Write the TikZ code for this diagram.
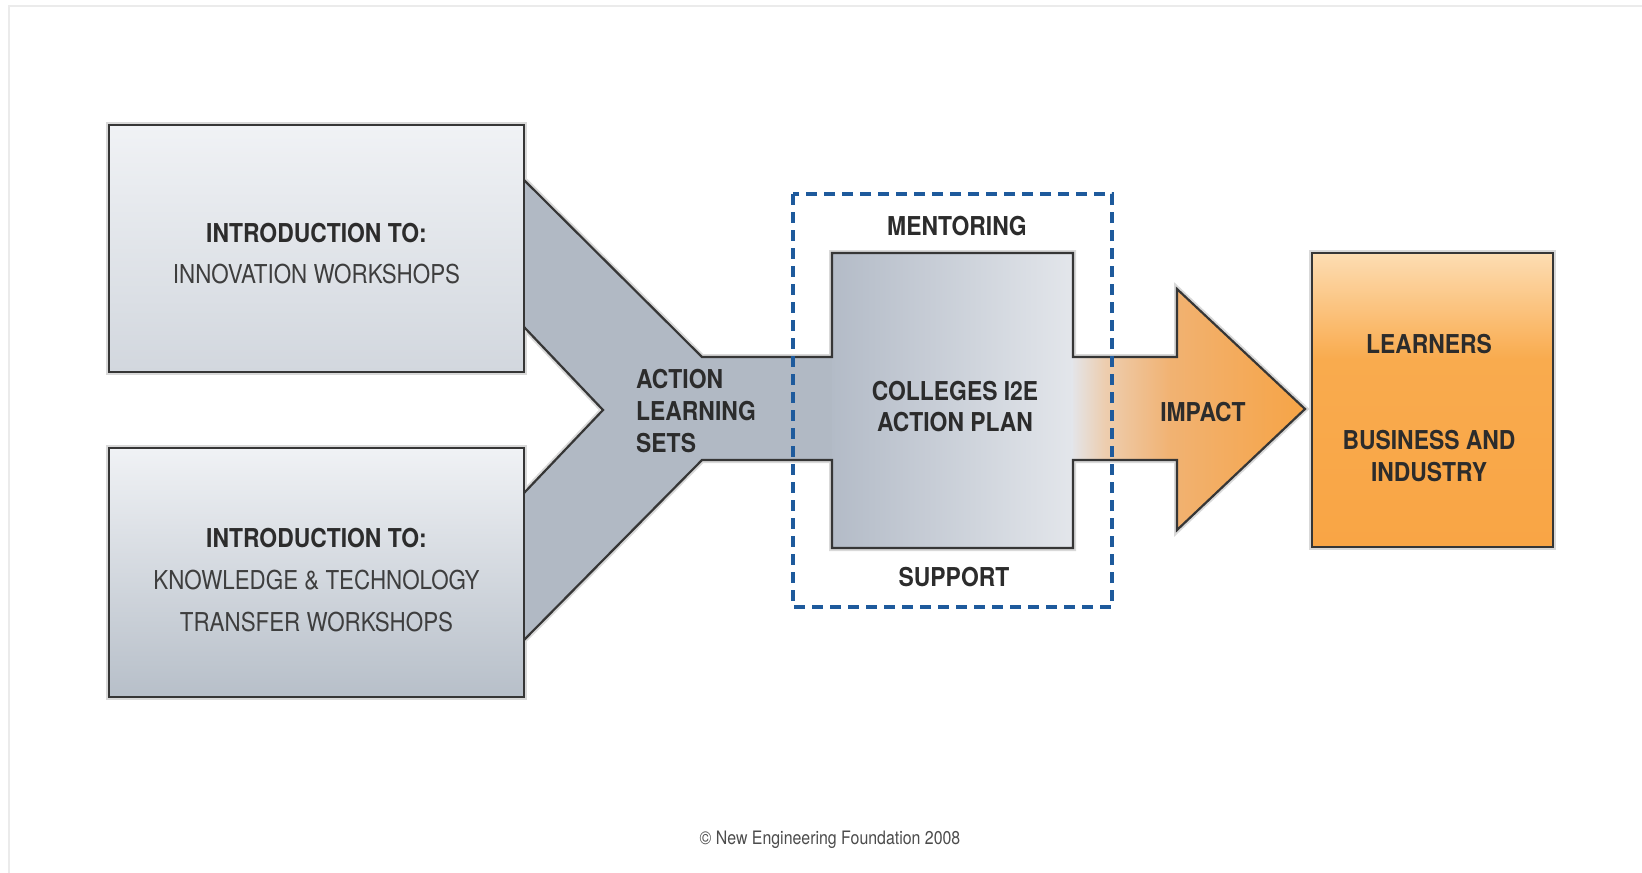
\documentclass[tikz,border=0pt]{standalone}
\usepackage{fontspec}
\newfontfamily\condb{TeX Gyre Heros}[FakeStretch=0.88]
\newfontfamily\condr{TeX Gyre Heros}[FakeStretch=0.86]
\definecolor{outl}{HTML}{363636}
\definecolor{halo}{HTML}{D9D9D9}
\definecolor{funnel}{HTML}{B1B9C4}
\definecolor{txt}{HTML}{2C2C2C}
\definecolor{txtr}{HTML}{3E3E3E}
\definecolor{dashblue}{HTML}{1E5A9C}
\definecolor{boxtop}{HTML}{F0F2F5}
\definecolor{boxbotA}{HTML}{D2D7DE}
\definecolor{boxbotB}{HTML}{B7BFC9}
\definecolor{cenL}{HTML}{B3BBC7}
\definecolor{cenR}{HTML}{E3E6EB}
\definecolor{imp0}{HTML}{E4E4E7}
\definecolor{imp1}{HTML}{EDCDAE}
\definecolor{imp2}{HTML}{F1B272}
\definecolor{imp3}{HTML}{F6A446}
\definecolor{or0}{HTML}{FDDDB3}
\definecolor{or1}{HTML}{F9AB4E}
\definecolor{or2}{HTML}{F9A545}
\pgfdeclarehorizontalshading{impactshade}{100bp}{color(0bp)=(imp0); color(25bp)=(imp0); color(32bp)=(imp1); color(46bp)=(imp2); color(75bp)=(imp3); color(100bp)=(imp3)}
\pgfdeclareverticalshading{orangeshade}{100bp}{color(0bp)=(or2); color(25bp)=(or2); color(57bp)=(or1); color(75bp)=(or0); color(100bp)=(or0)}
\tikzset{
  darkline/.style={draw=outl, line width=2.2pt, line join=miter},
  haloline/.style={draw=halo, line width=6pt, line join=miter},
  boldtxt/.style={inner sep=0pt, anchor=base, text=txt, font=\condb\bfseries\fontsize{26}{31}\selectfont},
  regtxt/.style={inner sep=0pt, anchor=base, text=txtr, font=\condr\fontsize{26}{31}\selectfont},
  dashbox/.style={draw=dashblue, line width=3.2pt, dash pattern=on 11pt off 7pt}
}
\begin{document}
\begin{tikzpicture}[x=1pt,y=-1pt]
\useasboundingbox (0,0) rectangle (1642,873);
\fill[white] (0,0) rectangle (1642,873);
% faint frame
\draw[black!8, line width=2pt] (9,873) -- (9,6) -- (1642,6);

% coordinates
\coordinate (fa) at (524,180);
\coordinate (fb) at (702,357);
\coordinate (fc) at (832,357);
\coordinate (fd) at (832,253);
\coordinate (fe) at (1073,253);
\coordinate (ff) at (1073,357);
\coordinate (fg) at (1177,357);
\coordinate (fh) at (1177,289);
\coordinate (tip) at (1305,409);
\coordinate (fi) at (1177,530);
\coordinate (fj) at (1177,460);
\coordinate (fk) at (1073,460);
\coordinate (fl) at (1073,548);
\coordinate (fm) at (832,548);
\coordinate (fn) at (832,460);
\coordinate (fo) at (702,460);
\coordinate (fp) at (524,640);
\coordinate (ia) at (524,327);
\coordinate (ib) at (603,410);
\coordinate (ic) at (524,493);

% halos
\draw[haloline] (fa) -- (fb) -- (fc) -- (fd) -- (fe) -- (ff) -- (fg) -- (fh) -- (tip) -- (fi) -- (fj) -- (fk) -- (fl) -- (fm) -- (fn) -- (fo) -- (fp);
\draw[haloline] (ia) -- (ib) -- (ic);
\draw[haloline] (109,125) rectangle (524,372);
\draw[haloline] (109,448) rectangle (524,697);
\draw[haloline] (1312,253) rectangle (1553,547);

% fills
\fill[funnel] (fa) -- (fb) -- (fc) -- (fn) -- (fo) -- (fp) -- (ic) -- (ib) -- (ia) -- cycle;
\shade[left color=cenL, right color=cenR] (fd) rectangle (fl);
\shade[shading=impactshade] (ff) -- (fg) -- (fh) -- (tip) -- (fi) -- (fj) -- (fk) -- cycle;
\shade[top color=boxtop, bottom color=boxbotA] (109,125) rectangle (524,372);
\shade[top color=boxtop, bottom color=boxbotB] (109,448) rectangle (524,697);
\shade[shading=orangeshade] (1312,253) rectangle (1553,547);

% outlines
\draw[darkline] (fa) -- (fb) -- (fc) -- (fd) -- (fe) -- (ff) -- (fg) -- (fh) -- (tip) -- (fi) -- (fj) -- (fk) -- (fl) -- (fm) -- (fn) -- (fo) -- (fp);
\draw[darkline] (ia) -- (ib) -- (ic);
\draw[darkline] (109,125) rectangle (524,372);
\draw[darkline] (109,448) rectangle (524,697);
\draw[darkline] (1312,253) rectangle (1553,547);

% dashed frame
\draw[dashbox] (793,194) rectangle (1112,607);

% texts
\node[boldtxt] (i1) at (316.5,242) {INTRODUCTION TO:};
\node[regtxt] (i2) at (316.5,283) {INNOVATION WORKSHOPS};
\node[boldtxt] (k1) at (316.5,547) {INTRODUCTION TO:};
\node[regtxt] (k2) at (316.5,589) {KNOWLEDGE \& TECHNOLOGY};
\node[regtxt] (k3) at (316.5,631) {TRANSFER WORKSHOPS};
\node[boldtxt, anchor=base west] (a1) at (636,388) {ACTION};
\node[boldtxt, anchor=base west] (a2) at (636,420) {LEARNING};
\node[boldtxt, anchor=base west] (a3) at (636,452) {SETS};
\node[boldtxt] (m) at (957,235) {MENTORING};
\node[boldtxt] (c1) at (955,400) {COLLEGES I2E};
\node[boldtxt] (c2) at (955,431) {ACTION PLAN};
\node[boldtxt] (s) at (954,586) {SUPPORT};
\node[boldtxt] (imp) at (1203,421) {IMPACT};
\node[boldtxt] (l) at (1429,353) {LEARNERS};
\node[boldtxt] (b1) at (1429,449) {BUSINESS AND};
\node[boldtxt] (b2) at (1429,481) {INDUSTRY};
\node[inner sep=0pt, anchor=base, text=black!70, font=\condr\fontsize{18.5}{22}\selectfont] (copy) at (830,844) {© New Engineering Foundation 2008};
\end{tikzpicture}
\end{document}
